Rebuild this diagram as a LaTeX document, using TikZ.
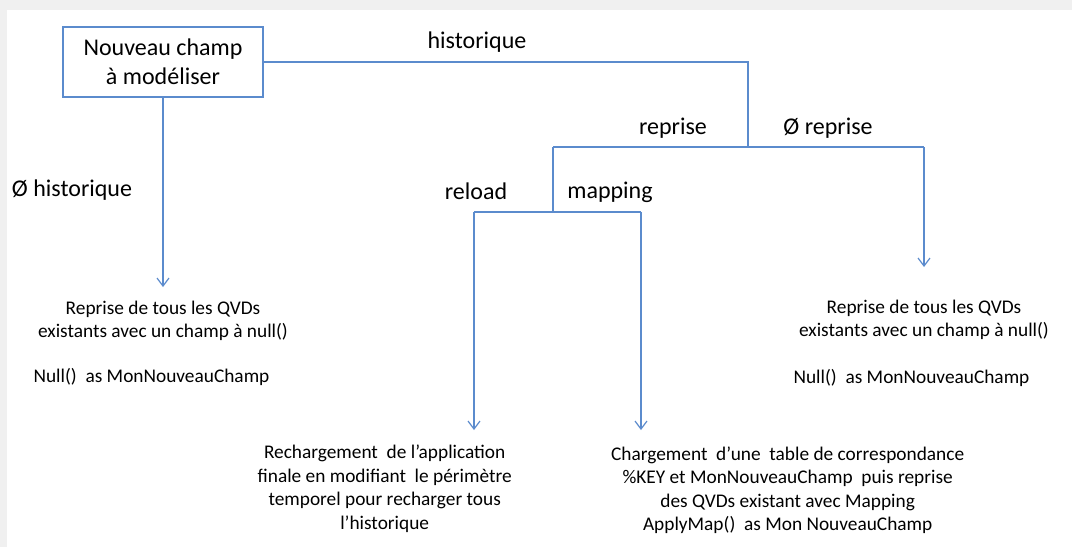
\documentclass[tikz,border=0pt]{standalone}
\usepackage{fontspec}
\setmainfont{Carlito}
\usetikzlibrary{arrows.meta,positioning}
\definecolor{LinkBlue}{RGB}{91,139,205}

\begin{document}
\begin{tikzpicture}[x=0.75pt, y=-0.75pt, line width=0.9pt,
      link/.style={draw=LinkBlue},
      arrowdown/.style={link,-{Straight Barb[length=6pt,width=9pt,line width=0.9pt]}},
      every node/.append style={text=black, inner sep=0pt},
      branch/.style={font=\fontsize{18pt}{21.75pt}\selectfont},
      startbox/.style={draw=LinkBlue, minimum width=150pt, minimum height=52.5pt,
        align=center, font=\fontsize{18pt}{21.75pt}\selectfont},
      result/.style={align=center, font=\fontsize{14.5pt}{17.6pt}\selectfont}]
    % page and its shadowed edges
    \useasboundingbox (0,0) rectangle (1072,547);
    \fill[white] (0,0) rectangle (1072,547);
    \fill[black!6] (0,0) rectangle (1072,10);
    \fill[black!6] (0,0) rectangle (7,547);

    \node (root) [startbox] at (163,62) {Nouveau champ\\à modéliser};

    % junctions of the tree
    \coordinate (fork)     at (748,147);
    \coordinate (forkL)    at (553,147);
    \coordinate (forkR)    at (924,147);
    \coordinate (split)    at (553,212);
    \coordinate (reloadJ)  at (474,212);
    \coordinate (mappingJ) at (641,212);
    \coordinate (tipL)     at (163,287);
    \coordinate (tipR)     at (924,267);
    \coordinate (tipRl)    at (474,430);
    \coordinate (tipMp)    at (641,430);

    \draw[link] (root.east) -| (fork);
    \draw[link] (forkL) -- (forkR);
    \draw[link] (forkL) -- (split);
    \draw[link] (reloadJ) -- (mappingJ);
    \draw[arrowdown] (root.south) -- (tipL);
    \draw[arrowdown] (forkR) -- (tipR);
    \draw[arrowdown] (reloadJ) -- (tipRl);
    \draw[arrowdown] (mappingJ) -- (tipMp);

    % branch labels
    \node (histo)   [branch] at (477,42)  {historique};
    \node (noHisto) [branch] at (72,190)  {Ø historique};
    \node (repr)    [branch] at (673,128) {reprise};
    \node (noRepr)  [branch] at (828,128) {Ø reprise};
    \node (reload)  [branch] at (476,191) {reload};
    \node (mapping) [branch] at (610,192) {mapping};

    % outcomes
    \node (nullL) [result, below=10pt of tipL] {Reprise de tous les QVDs\\existants avec un champ à null()};
    \node (asNullL) [result, anchor=west] at (33,377) {Null() \ as MonNouveauChamp};
    \node (nullR) [result, below=24pt of tipR] {Reprise de tous les QVDs\\existants avec un champ à null()};
    \node (asNullR) [result, anchor=west] at (793,378) {Null() \ as MonNouveauChamp};
    \node (reloadTxt) [result, below=11pt of tipRl, xshift=-67pt]
      {Rechargement \ de l’application\\finale en modifiant \ le périmètre\\temporel pour recharger tous\\l’historique};
    \node (mappingTxt) [result, below=12pt of tipMp, xshift=110pt]
      {Chargement \ d’une \ table de correspondance\\\%KEY et MonNouveauChamp \ puis reprise\\des QVDs existant avec Mapping\\ApplyMap() \ as Mon NouveauChamp};
\end{tikzpicture}
\end{document}
